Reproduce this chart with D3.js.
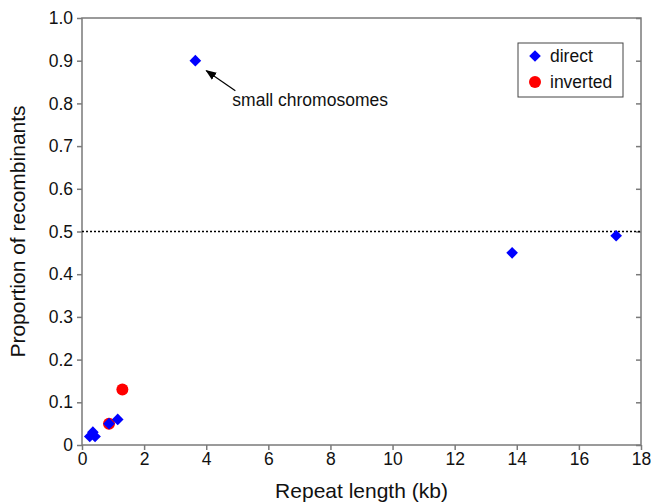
<!DOCTYPE html>
<html>
<head>
<meta charset="utf-8">
<script src="https://cdn.jsdelivr.net/npm/d3@7"></script>
<style>
  body { margin: 0; background: #fff; }
  svg text { font-family: "Liberation Sans", Arial, sans-serif; fill: #111; }
</style>
</head>
<body>
<div id="chart"></div>
<script>
// repeat length (kb) and proportion of recombinants
const directX = [0.25, 0.35, 0.42, 0.87, 1.15, 3.65, 13.85, 17.2];
const directY = [0.02, 0.03, 0.02, 0.05, 0.06, 0.90, 0.45, 0.49];
const invertedX = [0.87, 1.3];
const invertedY = [0.05, 0.13];
const xTicks = [0, 2, 4, 6, 8, 10, 12, 14, 16, 18];
const yTicks = [0, 0.1, 0.2, 0.3, 0.4, 0.5, 0.6, 0.7, 0.8, 0.9, 1.0];
const threshold = 0.5;

const W = 651, H = 502;
const margin = {top: 18, right: 10, bottom: 57, left: 82};
const width = W - margin.left - margin.right;
const height = H - margin.top - margin.bottom;
const axisColor = "#7a7a7a";

const svg = d3.select("#chart").append("svg")
    .attr("width", W)
    .attr("height", H);

const g = svg.append("g")
    .attr("transform", `translate(${margin.left},${margin.top})`);

const x = d3.scaleLinear().domain([0, 18]).range([0, width]);
const y = d3.scaleLinear().domain([0, 1]).range([height, 0]);

// frame
g.append("rect")
    .attr("width", width)
    .attr("height", height)
    .attr("fill", "none")
    .attr("stroke", axisColor)
    .attr("stroke-width", 1.5);

g.append("g")
    .attr("transform", `translate(0,${height})`)
    .call(d3.axisBottom(x).tickValues(xTicks).tickFormat(d3.format("d")).tickSize(5).tickPadding(3));

g.append("g")
    .call(d3.axisLeft(y).tickValues(yTicks).tickFormat(d => d === 0 ? "0" : d3.format(".1f")(d)).tickSize(5).tickPadding(4));

// small inward ticks on the right edge
g.append("g")
    .attr("transform", `translate(${width},0)`)
    .call(d3.axisLeft(y).tickValues(yTicks).tickFormat("").tickSize(5));

g.selectAll(".domain").remove();
g.selectAll(".tick line").attr("stroke", axisColor).attr("stroke-width", 1.5);
g.selectAll(".tick text").style("font-size", "17.5px").attr("fill", "#111");

// dotted line at 0.5
g.append("line")
    .attr("x1", 0).attr("x2", width)
    .attr("y1", y(threshold)).attr("y2", y(threshold))
    .attr("stroke", "#000")
    .attr("stroke-width", 1.5)
    .attr("stroke-dasharray", "2,2");

const diamond = d3.symbol().type(d3.symbolSquare).size(68);

// inverted drawn first; direct diamonds on top
g.selectAll(".inv")
    .data(invertedX.map((v, i) => [v, invertedY[i]]))
    .join("circle")
    .attr("cx", d => x(d[0]))
    .attr("cy", d => y(d[1]))
    .attr("r", 6)
    .attr("fill", "#ff0000");

g.selectAll(".dir")
    .data(directX.map((v, i) => [v, directY[i]]))
    .join("path")
    .attr("d", diamond)
    .attr("transform", d => `translate(${x(d[0])},${y(d[1])}) rotate(45)`)
    .attr("fill", "#0000ff");

// annotation
svg.append("defs").append("marker")
    .attr("id", "arr")
    .attr("viewBox", "0 0 10 10")
    .attr("refX", 9).attr("refY", 5)
    .attr("markerWidth", 9).attr("markerHeight", 9)
    .attr("orient", "auto")
    .append("path")
    .attr("d", "M0,1 L10,5 L0,9 z")
    .attr("fill", "#000");

g.append("line")
    .attr("x1", x(3.65) + 40).attr("y1", y(0.9) + 30)
    .attr("x2", x(3.65) + 11).attr("y2", y(0.9) + 10)
    .attr("stroke", "#000")
    .attr("stroke-width", 1.2)
    .attr("marker-end", "url(#arr)");

g.append("text")
    .attr("x", x(3.65) + 37)
    .attr("y", y(0.9) + 45)
    .style("font-size", "17.5px")
    .text("small chromosomes");

// legend
const leg = g.append("g").attr("transform", `translate(${width - 123},25)`);
leg.append("rect")
    .attr("width", 105).attr("height", 54)
    .attr("fill", "#fff")
    .attr("stroke", "#444")
    .attr("stroke-width", 1);
leg.append("path")
    .attr("d", diamond)
    .attr("transform", "translate(17,13) rotate(45)")
    .attr("fill", "#0000ff");
leg.append("circle")
    .attr("cx", 17).attr("cy", 39).attr("r", 6)
    .attr("fill", "#ff0000");
leg.append("text").attr("x", 32).attr("y", 19).style("font-size", "17.5px").text("direct");
leg.append("text").attr("x", 32).attr("y", 45).style("font-size", "17.5px").text("inverted");

// axis titles
svg.append("text")
    .attr("x", margin.left + width / 2)
    .attr("y", H - 4)
    .attr("text-anchor", "middle")
    .style("font-size", "21px")
    .text("Repeat length (kb)");

svg.append("text")
    .attr("transform", `translate(25,${margin.top + height / 2}) rotate(-90)`)
    .attr("text-anchor", "middle")
    .style("font-size", "21px")
    .text("Proportion of recombinants");
</script>
</body>
</html>
